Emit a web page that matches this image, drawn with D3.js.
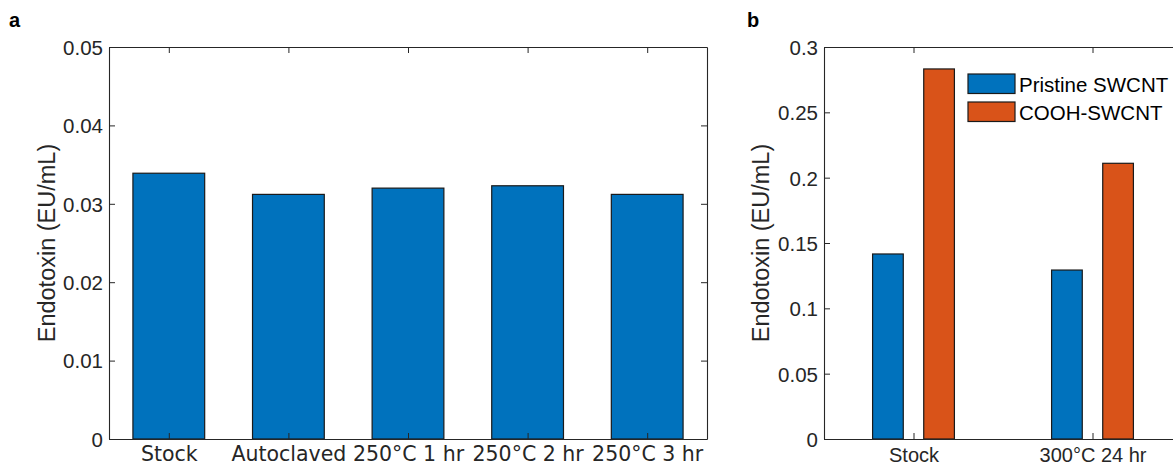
<!DOCTYPE html>
<html>
<head>
<meta charset="utf-8">
<script src="https://cdn.jsdelivr.net/npm/d3@7"></script>
<style>
  html, body { margin: 0; padding: 0; background: #fff; overflow: hidden; }
  svg { display: block; }
  .tick text { fill: #262626; }
</style>
</head>
<body>
<script>
// Panel a: endotoxin after each treatment
const treatments = ["Stock", "Autoclaved", "250°C 1 hr", "250°C 2 hr", "250°C 3 hr"];
const treatmentValues = [0.0339, 0.0312, 0.0320, 0.0323, 0.0312];
const ticksA = [0, 0.01, 0.02, 0.03, 0.04, 0.05];

// Panel b: pristine vs carboxylated nanotubes
const conditions = ["Stock", "300°C 24 hr"];
const seriesNames = ["Pristine SWCNT", "COOH-SWCNT"];
const pristineValues = [0.1416, 0.1293];
const coohValues = [0.2832, 0.2110];
const ticksB = [0, 0.05, 0.1, 0.15, 0.2, 0.25, 0.3];

const W = 1173, H = 466;
const axisColor = "#262626";
const blue = "#0072BD", orange = "#D95319";
const tickFont = "Liberation Sans, Arial, Helvetica, sans-serif";

const svg = d3.select("body").append("svg").attr("width", W).attr("height", H);

function fmt(v) { return v === 0 ? "0" : d3.format("")(+v.toFixed(3)); }

function frame(g, x, y, yTicks, xTickVals, xLabels, xFont, xSize, xBase) {
  const [x0, x1] = x.range();
  const [y0, y1] = y.range();
  const tl = 6;
  // bottom axis
  const bottom = g.append("g").attr("transform", `translate(0,${y0})`)
    .call(d3.axisBottom(x).tickValues(xTickVals).tickSize(-tl).tickSizeOuter(0)
      .tickFormat((d, i) => xLabels[i]));
  bottom.selectAll("text").attr("font-family", xFont).attr("font-size", xSize)
    .attr("y", xBase).attr("dy", null);
  // top axis
  g.append("g").attr("transform", `translate(0,${y1})`)
    .call(d3.axisTop(x).tickValues(xTickVals).tickSize(-tl).tickSizeOuter(0).tickFormat(""));
  // left axis
  const left = g.append("g").attr("transform", `translate(${x0},0)`)
    .call(d3.axisLeft(y).tickValues(yTicks).tickSize(-tl).tickSizeOuter(0).tickFormat(fmt));
  left.selectAll("text").attr("font-family", tickFont).attr("font-size", 20.5)
    .attr("x", -6).attr("dy", "0.36em");
  // right axis
  g.append("g").attr("transform", `translate(${x1},0)`)
    .call(d3.axisRight(y).tickValues(yTicks).tickSize(-tl).tickSizeOuter(0).tickFormat(""));
  g.selectAll(".domain").attr("stroke", axisColor).attr("stroke-width", 1.1);
  g.selectAll(".tick line").attr("stroke", axisColor).attr("stroke-width", 1);
  g.selectAll(".tick text").attr("fill", axisColor);
}

function yTitle(cx, cy) {
  svg.append("text")
    .attr("transform", `translate(${cx},${cy}) rotate(-90)`)
    .attr("text-anchor", "middle").attr("dy", "0.35em")
    .attr("font-family", tickFont).attr("font-size", 23.5).attr("fill", axisColor)
    .text("Endotoxin (EU/mL)");
}

// ---------- panel a ----------
const xa = d3.scaleLinear().domain([0.5, treatments.length + 0.5]).range([109, 707]);
const ya = d3.scaleLinear().domain([0, 0.05]).range([439, 47]);
const ga = svg.append("g");
const barW = 0.6;
ga.selectAll("rect.bar").data(treatmentValues).join("rect")
  .attr("class", "bar")
  .attr("x", (d, i) => xa(i + 1 - barW / 2))
  .attr("width", xa(1 + barW / 2) - xa(1 - barW / 2))
  .attr("y", d => ya(d))
  .attr("height", d => ya(0) - ya(d))
  .attr("fill", blue).attr("stroke", "#1a1a1a").attr("stroke-width", 1.2);
frame(ga, xa, ya, ticksA, treatments.map((_, i) => i + 1), treatments,
  "DejaVu Sans, sans-serif", 20.5, 21.5);
yTitle(46.5, 243);

// ---------- panel b ----------
const xb = d3.scaleLinear().domain([0.5, conditions.length + 0.5]).range([824, 1182]);
const yb = d3.scaleLinear().domain([0, 0.3]).range([439, 47]);
const gb = svg.append("g");
const groupW = conditions.length / (conditions.length + 1.5);
const offsets = [-groupW / 4, groupW / 4];
const bw = groupW / 2 * 0.6;
const seriesData = [pristineValues, coohValues];
const colors = [blue, orange];
seriesData.forEach((vals, s) => {
  gb.selectAll(`rect.s${s}`).data(vals).join("rect")
    .attr("class", `s${s}`)
    .attr("x", (d, i) => xb(i + 1 + offsets[s] - bw / 2))
    .attr("width", xb(1 + bw / 2) - xb(1 - bw / 2))
    .attr("y", d => yb(d))
    .attr("height", d => yb(0) - yb(d))
    .attr("fill", colors[s]).attr("stroke", "#1a1a1a").attr("stroke-width", 1.2);
});
frame(gb, xb, yb, ticksB, conditions.map((_, i) => i + 1), conditions, tickFont, 20, 22.5);
yTitle(761, 243);

// legend
const leg = gb.append("g").attr("transform", "translate(968,74)");
seriesNames.forEach((name, i) => {
  const row = leg.append("g").attr("transform", `translate(0,${i * 28})`);
  row.append("rect").attr("width", 47).attr("height", 19.5)
    .attr("fill", colors[i]).attr("stroke", "#1a1a1a").attr("stroke-width", 1.2);
  row.append("text").attr("x", 51).attr("y", 17.5)
    .attr("font-family", tickFont).attr("font-size", 20.5).attr("fill", "#000")
    .text(name);
});

// panel letters
[["a", 9], ["b", 747]].forEach(([t, x]) => {
  svg.append("text").attr("x", x).attr("y", 27)
    .attr("font-family", tickFont).attr("font-weight", "bold").attr("font-size", 20)
    .attr("fill", "#000").text(t);
});
</script>
</body>
</html>
